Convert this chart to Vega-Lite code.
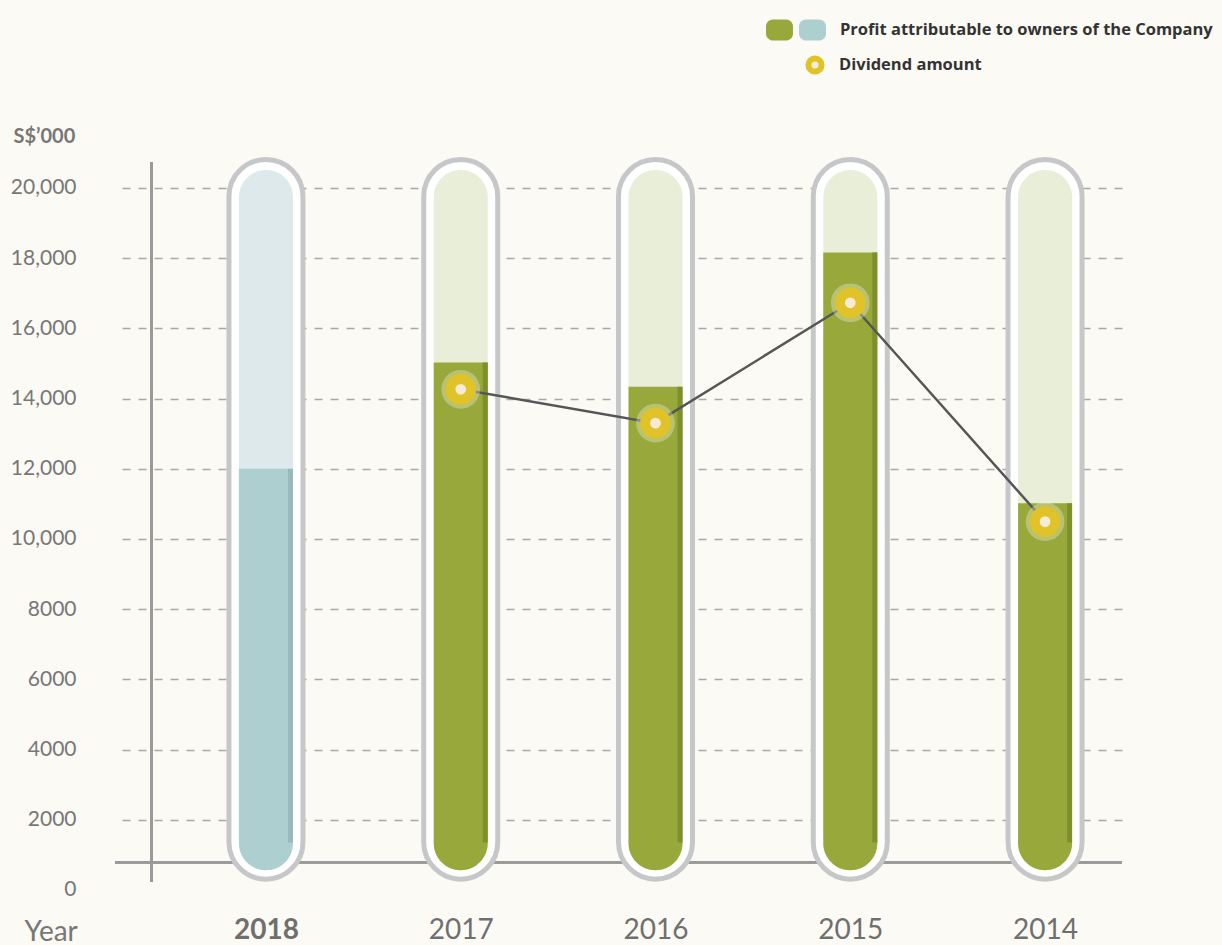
{
  "$schema": "https://vega.github.io/schema/vega-lite/v6.json",
  "autosize": {"type": "none"},
  "width": 1007,
  "height": 780,
  "padding": {"left": 115, "top": 130, "right": 100, "bottom": 35},
  "background": "#fcfaf4",
  "config": {"font": "Lato", "view": {"stroke": null}},
  "data": {"values": [
    {"year": 2018, "profit": 12000, "dividend": null, "period": "current"},
    {"year": 2017, "profit": 15030, "dividend": 14265, "period": "past"},
    {"year": 2016, "profit": 14340, "dividend": 13300, "period": "past"},
    {"year": 2015, "profit": 18160, "dividend": 16730, "period": "past"},
    {"year": 2014, "profit": 11020, "dividend": 10495, "period": "past"}
  ]},
  "encoding": {
    "x": {"field": "year", "type": "quantitative",
      "scale": {"domain": [2013.605, 2018.775], "reverse": true, "nice": false, "zero": false, "padding": 0},
      "axis": {"values": [2018, 2017, 2016, 2015, 2014], "format": "d", "domain": false, "ticks": false, "grid": false,
        "labelFontSize": 28, "labelPadding": 6, "labelColor": "#6f6f6f",
        "labelFontWeight": {"condition": {"test": "datum.value == 2018", "value": "bold"}, "value": "normal"},
        "title": "Year", "titleFontSize": 28, "titleFontWeight": "normal", "titleColor": "#777777",
        "titleAlign": "left", "titleAnchor": null, "titleX": -91, "titleY": 30, "titleBaseline": "alphabetic"}}
  },
  "layer": [
    {"mark": {"type": "rule", "color": "#9a9a9a", "strokeWidth": 2.5},
     "encoding": {"x": null, "y": {"datum": 789, "type": "quantitative",
       "scale": {"domain": [-570, 21652], "nice": false, "zero": false, "padding": 0},
       "axis": {"values": [0, 2000, 4000, 6000, 8000, 10000, 12000, 14000, 16000, 18000, 20000],
         "labelExpr": "datum.value >= 10000 ? format(datum.value, ',') : format(datum.value, 'd')",
         "domain": false, "ticks": false, "labelPadding": 39, "labelFontSize": 21, "labelColor": "#777777",
         "grid": true, "gridColor": "#a8a8a8", "gridDash": [8, 8], "gridWidth": 1.5,
         "gridOpacity": {"condition": {"test": "datum.value === 0", "value": 0}, "value": 1},
         "title": "S$’000", "titleAngle": 0, "titleAlign": "left", "titleBaseline": "middle", "titleAnchor": null,
         "titleX": -102, "titleY": 6, "titleFontSize": 20, "titleFontWeight": "bold", "titleColor": "#777777"}}}},
    {"mark": {"type": "rule", "color": "#9a9a9a", "strokeWidth": 2.5},
     "encoding": {"x": {"datum": 2018.587, "type": "quantitative"}, "y": {"datum": 236, "type": "quantitative"}, "y2": {"datum": 20741}}},
    {"mark": {"type": "bar", "width": 74, "fill": "#ffffff", "stroke": "#c6c7c9", "strokeWidth": 5, "cornerRadius": 37},
     "encoding": {"y": {"datum": 308, "type": "quantitative"}, "y2": {"datum": 20812}}},
    {"mark": {"type": "bar", "width": 54, "cornerRadius": 27},
     "encoding": {"y": {"datum": 560, "type": "quantitative"}, "y2": {"datum": 20513},
       "fill": {"condition": {"test": "datum.year == 2018", "value": "#dde9ea"}, "value": "#e8eed8"}}},
    {"mark": {"type": "bar", "width": 54, "cornerRadiusBottomLeft": 27, "cornerRadiusBottomRight": 27},
     "encoding": {"y": {"field": "profit", "type": "quantitative"}, "y2": {"datum": 560},
       "fill": {"field": "period", "type": "nominal",
         "scale": {"domain": ["past", "current"], "range": ["#99a83a", "#aecfd0"]},
         "legend": {"orient": "none", "legendX": 651, "legendY": -114, "direction": "horizontal", "title": null,
           "padding": 0, "columnPadding": 4,
           "symbolType": "M-0.48,-0.78L0.48,-0.78A0.52,0.52,0,0,1,1,-0.26L1,0.26A0.52,0.52,0,0,1,0.48,0.78L-0.48,0.78A0.52,0.52,0,0,1,-1,0.26L-1,-0.26A0.52,0.52,0,0,1,-0.48,-0.78Z",
           "symbolSize": 729, "symbolStrokeWidth": 0, "symbolOpacity": 1,
           "labelExpr": "datum.value == 'current' ? 'Profit attributable to owners of the Company' : ''",
           "labelLimit": 0,
           "labelFont": "Open Sans", "labelFontSize": 16.5, "labelFontWeight": "bold", "labelColor": "#333333", "labelOffset": 1,
           "encode": {"labels": {"update": {"dx": {"signal": "datum.value === 'current' ? 13 : 0"}}}}}}}},
    {"mark": {"type": "bar", "width": 5, "xOffset": 24.5},
     "encoding": {"y": {"field": "profit", "type": "quantitative"}, "y2": {"datum": 1350},
       "fill": {"condition": {"test": "datum.year == 2018", "value": "#98babc"}, "value": "#7e902c"}}},
    {"transform": [{"filter": "datum.dividend != null"}],
     "mark": {"type": "line", "color": "#565656", "strokeWidth": 2.5},
     "encoding": {"y": {"field": "dividend", "type": "quantitative"}}},
    {"transform": [{"filter": "datum.dividend != null"}],
     "mark": {"type": "point", "filled": true, "fill": "#ffffff", "opacity": 0.3, "size": 1500, "strokeWidth": 0},
     "encoding": {"y": {"field": "dividend", "type": "quantitative"}}},
    {"transform": [{"filter": "datum.dividend != null"}],
     "mark": {"type": "point", "filled": true, "fill": "#f7ead6", "opacity": 1, "size": 430, "strokeWidth": 10},
     "encoding": {"y": {"field": "dividend", "type": "quantitative"},
       "stroke": {"datum": "Dividend amount", "scale": {"range": ["#e0c328"]},
         "legend": {"orient": "none", "legendX": 690, "legendY": -75, "title": null, "padding": 0,
           "symbolType": "circle", "symbolSize": 172, "symbolStrokeWidth": 6, "symbolFillColor": "#f7ead6", "symbolOpacity": 1,
           "labelLimit": 0,
           "labelFont": "Open Sans", "labelFontSize": 16.5, "labelFontWeight": "bold", "labelColor": "#333333", "labelOffset": 14}}}}
  ]
}
